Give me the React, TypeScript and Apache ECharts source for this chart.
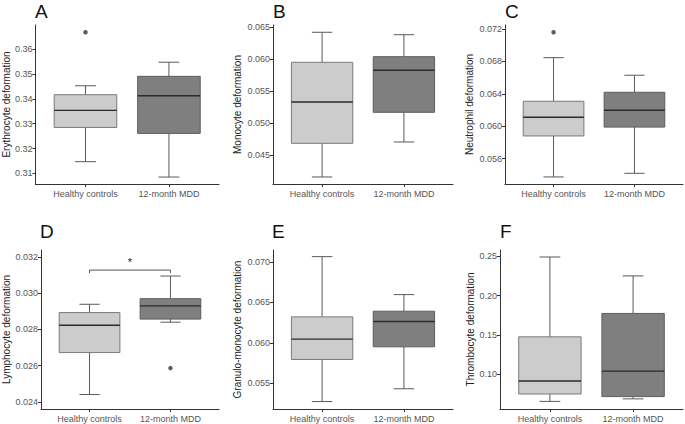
import React, { useEffect, useRef } from "react";
import * as echarts from "echarts";

// Categories
const categories = ["Healthy controls", "12-month MDD"];

// Box statistics: [lower whisker, Q1, median, Q3, upper whisker]
const erythrocyteHealthy = [0.3147, 0.3285, 0.3354, 0.3417, 0.3453];
const erythrocyteMDD = [0.3085, 0.3261, 0.3413, 0.3491, 0.3548];
const erythrocyteOutliers = [[1, 0.3669]];
const erythrocyteTicks = [0.31, 0.32, 0.33, 0.34, 0.35, 0.36];

const monocyteHealthy = [0.04156, 0.04683, 0.0533, 0.05952, 0.06422];
const monocyteMDD = [0.04704, 0.05169, 0.05827, 0.0604, 0.06384];
const monocyteOutliers: number[][] = [];
const monocyteTicks = [0.045, 0.05, 0.055, 0.06, 0.065];

const neutrophilHealthy = [0.05374, 0.0588, 0.0611, 0.06308, 0.06846];
const neutrophilMDD = [0.05419, 0.05989, 0.06197, 0.06419, 0.06629];
const neutrophilOutliers = [[1, 0.0716]];
const neutrophilTicks = [0.056, 0.06, 0.064, 0.068, 0.072];

const lymphocyteHealthy = [0.0244, 0.02672, 0.02823, 0.02893, 0.02939];
const lymphocyteMDD = [0.0284, 0.02857, 0.0293, 0.0297, 0.03095];
const lymphocyteOutliers = [[2, 0.02586]];
const lymphocyteTicks = [0.024, 0.026, 0.028, 0.03, 0.032];
const lymphocyteBracket = [[1, 2, 0.03128]];

const granuloHealthy = [0.05276, 0.05796, 0.06047, 0.06322, 0.07066];
const granuloMDD = [0.05434, 0.05952, 0.06264, 0.06392, 0.06597];
const granuloOutliers: number[][] = [];
const granuloTicks = [0.055, 0.06, 0.065, 0.07];

const thrombocyteHealthy = [0.0652, 0.0746, 0.0911, 0.1474, 0.2491];
const thrombocyteMDD = [0.0684, 0.0713, 0.1038, 0.1772, 0.225];
const thrombocyteOutliers: number[][] = [];
const thrombocyteTicks = [0.1, 0.15, 0.2, 0.25];

const panelLetters = ["A", "B", "C", "D", "E", "F"];
const axisTitles = [
  "Erythrocyte deformation",
  "Monocyte deformation",
  "Neutrophil deformation",
  "Lymphocyte deformation",
  "Granulo-monocyte deformation",
  "Thrombocyte deformation",
];

const FONT = "'Liberation Sans', Arial, sans-serif";

export default function App() {
  const ref = useRef<HTMLDivElement>(null);

  useEffect(() => {
    if (!ref.current) return;
    const chart = echarts.init(ref.current, null, { renderer: "svg" });

    const panels = [
      { h: erythrocyteHealthy, m: erythrocyteMDD, out: erythrocyteOutliers, ticks: erythrocyteTicks, dec: 2, min: 0.3057, max: 0.3698,
        grid: { left: 35, top: 25, width: 184, height: 159 }, gap: 24, letter: [35, 2] },
      { h: monocyteHealthy, m: monocyteMDD, out: monocyteOutliers, ticks: monocyteTicks, dec: 3, min: 0.04046, max: 0.06536,
        grid: { left: 273, top: 25, width: 180, height: 159 }, gap: 31, letter: [273, 2] },
      { h: neutrophilHealthy, m: neutrophilMDD, out: neutrophilOutliers, ticks: neutrophilTicks, dec: 3, min: 0.05287, max: 0.07249,
        grid: { left: 505, top: 25, width: 178, height: 159 }, gap: 31, letter: [505, 2] },
      { h: lymphocyteHealthy, m: lymphocyteMDD, out: lymphocyteOutliers, ticks: lymphocyteTicks, dec: 3, min: 0.0236, max: 0.03239,
        grid: { left: 40, top: 250, width: 179, height: 159 }, gap: 30, letter: [40, 222] },
      { h: granuloHealthy, m: granuloMDD, out: granuloOutliers, ticks: granuloTicks, dec: 3, min: 0.05184, max: 0.07148,
        grid: { left: 273, top: 250, width: 180, height: 159 }, gap: 31, letter: [272, 222] },
      { h: thrombocyteHealthy, m: thrombocyteMDD, out: thrombocyteOutliers, ticks: thrombocyteTicks, dec: 2, min: 0.0555, max: 0.258,
        grid: { left: 500, top: 250, width: 183, height: 159 }, gap: 24, letter: [500, 222] },
    ];

    const fills = ["#cccccc", "#7f7f7f"];
    const strokes = ["#7a7a7a", "#5e5e5e"];

    const renderBox = (params: any, api: any) => {
      const x = api.value(0);
      const lo = api.value(1), q1 = api.value(2), med = api.value(3), q3 = api.value(4), hi = api.value(5);
      const idx = Math.round(x) - 1;
      const bl = api.coord([x - 0.375, q3]);
      const br = api.coord([x + 0.375, q1]);
      const cTop = api.coord([x, hi]);
      const cQ3 = api.coord([x, q3]);
      const cQ1 = api.coord([x, q1]);
      const cLo = api.coord([x, lo]);
      const capL = api.coord([x - 0.125, hi])[0];
      const capR = api.coord([x + 0.125, hi])[0];
      const mL = api.coord([x - 0.375, med]);
      const mR = api.coord([x + 0.375, med]);
      const wStyle = { stroke: "#5a5a5a", lineWidth: 1 };
      return {
        type: "group",
        children: [
          { type: "line", shape: { x1: cTop[0], y1: cTop[1], x2: cQ3[0], y2: cQ3[1] }, style: wStyle },
          { type: "line", shape: { x1: cQ1[0], y1: cQ1[1], x2: cLo[0], y2: cLo[1] }, style: wStyle },
          { type: "line", shape: { x1: capL, y1: cTop[1], x2: capR, y2: cTop[1] }, style: wStyle },
          { type: "line", shape: { x1: capL, y1: cLo[1], x2: capR, y2: cLo[1] }, style: wStyle },
          {
            type: "rect",
            shape: { x: bl[0], y: bl[1], width: br[0] - bl[0], height: br[1] - bl[1] },
            style: { fill: fills[idx], stroke: strokes[idx], lineWidth: 1 },
          },
          { type: "line", shape: { x1: mL[0], y1: mL[1], x2: mR[0], y2: mR[1] }, style: { stroke: "#2b2b2b", lineWidth: 1.4 } },
        ],
      };
    };

    const renderBracket = (params: any, api: any) => {
      const x1 = api.value(0), x2 = api.value(1), y = api.value(2);
      const a = api.coord([x1, y]);
      const b = api.coord([x2, y]);
      return {
        type: "group",
        children: [
          {
            type: "polyline",
            shape: { points: [[a[0], a[1] + 3], [a[0], a[1]], [b[0], b[1]], [b[0], b[1] + 3]] },
            style: { stroke: "#555", lineWidth: 1, fill: "none" },
          },
          {
            type: "text",
            x: (a[0] + b[0]) / 2,
            y: a[1] - 8,
            style: { text: "*", fill: "#222", fontSize: 11, fontFamily: FONT, align: "center", verticalAlign: "middle" },
          },
        ],
      };
    };

    const grids: any[] = [];
    const xAxes: any[] = [];
    const yAxes: any[] = [];
    const series: any[] = [];
    const graphics: any[] = [];

    panels.forEach((p, i) => {
      grids.push({ ...p.grid, containLabel: false });
      xAxes.push({
        type: "value",
        gridIndex: i,
        min: 0.4,
        max: 2.6,
        splitLine: { show: false },
        axisLine: { show: true, onZero: false, lineStyle: { color: "#333", width: 1 } },
        axisTick: { show: true, customValues: [1, 2], length: 3, lineStyle: { color: "#333" } },
        axisLabel: {
          customValues: [1, 2],
          formatter: (v: number) => categories[Math.round(v) - 1] ?? "",
          fontSize: 9,
          color: "#555",
          fontFamily: FONT,
          margin: 5,
        },
      });
      yAxes.push({
        type: "value",
        gridIndex: i,
        min: p.min,
        max: p.max,
        splitLine: { show: false },
        axisLine: { show: true, onZero: false, lineStyle: { color: "#333", width: 1 } },
        axisTick: { show: true, customValues: p.ticks, length: 3, lineStyle: { color: "#333" } },
        axisLabel: {
          customValues: p.ticks,
          formatter: (v: number) => v.toFixed(p.dec),
          fontSize: 9,
          color: "#555",
          fontFamily: FONT,
          margin: 3,
        },
        name: axisTitles[i],
        nameLocation: "middle",
        nameGap: p.gap,
        nameTextStyle: { fontSize: 10, color: "#222", fontFamily: FONT },
      });
      series.push({
        type: "custom",
        xAxisIndex: i,
        yAxisIndex: i,
        clip: false,
        itemStyle: { color: "#222" },
        renderItem: renderBox,
        data: [
          [1, ...p.h],
          [2, ...p.m],
        ],
      });
      if (p.out.length) {
        series.push({
          type: "scatter",
          xAxisIndex: i,
          yAxisIndex: i,
          symbol: "circle",
          symbolSize: 4.5,
          itemStyle: { color: "#333" },
          data: p.out,
        });
      }
      graphics.push({
        type: "text",
        left: p.letter[0],
        top: p.letter[1],
        style: { text: panelLetters[i], fontSize: 19, fill: "#111", fontFamily: FONT },
      });
    });

    series.push({
      type: "custom",
      xAxisIndex: 3,
      yAxisIndex: 3,
      clip: false,
      itemStyle: { color: "#222" },
      renderItem: renderBracket,
      data: lymphocyteBracket,
    });

    chart.setOption({
      animation: false,
      backgroundColor: "#ffffff",
      color: ["#222222"],
      grid: grids,
      xAxis: xAxes,
      yAxis: yAxes,
      series,
      graphic: graphics,
    });

    return () => chart.dispose();
  }, []);

  return (
    <div
      ref={ref}
      style={{ position: "fixed", left: 0, top: 0, width: 685, height: 424, background: "#fff" }}
    />
  );
}
